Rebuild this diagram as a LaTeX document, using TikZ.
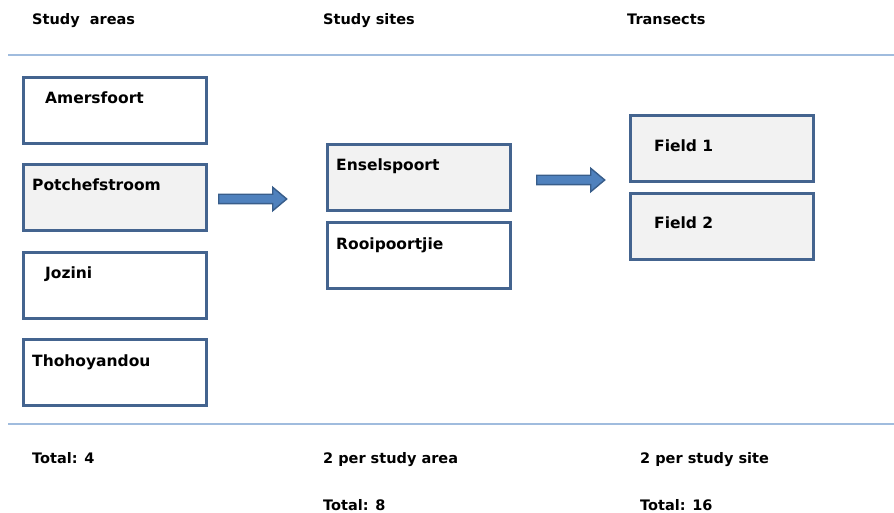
\documentclass[tikz,border=0pt]{standalone}
\usepackage{fontspec}
\setmainfont{DejaVu Sans}
\usetikzlibrary{shapes.arrows}

\definecolor{boxBorder}{RGB}{68,100,143}
\definecolor{boxFill}{RGB}{242,242,242}
\definecolor{arrowFill}{RGB}{79,129,189}
\definecolor{arrowBorder}{RGB}{56,93,138}
\definecolor{ruleBlue}{RGB}{160,188,222}

\begin{document}
\begin{tikzpicture}[x=1pt,y=-1pt]

\def\boxw{183pt}
\def\boxh{66pt}

\tikzstyle{siteBox}=[rectangle,draw=boxBorder,line width=2.6pt,minimum width=\boxw,minimum height=\boxh,anchor=north west,inner sep=0pt]
\tikzstyle{greyBox}=[siteBox,fill=boxFill]
\tikzstyle{boxText}=[anchor=base west,inner sep=0pt,font=\fontsize{15.5}{18}\selectfont\bfseries]
\tikzstyle{plainText}=[anchor=base west,inner sep=0pt,font=\fontsize{14.5}{17}\selectfont\bfseries]
\tikzstyle{blockArrow}=[single arrow,draw=arrowBorder,fill=arrowFill,line width=1.4pt,inner xsep=0pt,inner ysep=4pt,single arrow head extend=7pt,single arrow tip angle=80,minimum height=68pt,anchor=west]
\tikzstyle{rule}=[draw=ruleBlue,line width=1.2pt]

\useasboundingbox (0,0) rectangle (894,513);

%Headers
\node[plainText] (hAreas) at (32,25) {Study\ \ areas};
\node[plainText] (hSites) at (323,25) {Study sites};
\node[plainText] (hTrans) at (627,25) {Transects};

\draw[rule] (8,55) -- (894,55);
\draw[rule] (8,424) -- (894,424);

%Study areas
\node[siteBox] (amersfoort) at (22,76) {};
\node[greyBox] (potch) at (22,163) {};
\node[siteBox] (jozini) at (22,251) {};
\node[siteBox] (thoho) at (22,338) {};

\node[boxText] (tAmersfoort) at (45,104) {Amersfoort};
\node[boxText] (tPotch) at (32,191) {Potchefstroom};
\node[boxText] (tJozini) at (45,278) {Jozini};
\node[boxText] (tThoho) at (32,366) {Thohoyandou};

%Study sites
\node[greyBox] (ensels) at (326,143) {};
\node[siteBox] (rooi) at (326,221) {};

\node[boxText] (tEnsels) at (336,171) {Enselspoort};
\node[boxText] (tRooi) at (336,249) {Rooipoortjie};

%Transects
\node[greyBox] (field1) at (629,114) {};
\node[greyBox] (field2) at (629,192) {};

\node[boxText] (tField1) at (654,152) {Field 1};
\node[boxText] (tField2) at (654,229) {Field 2};

%Arrows
\node[blockArrow] (arrowA) at (218,199) {};
\node[blockArrow] (arrowB) at (536,180) {};

%Totals
\node[plainText] (totA) at (32,463) {Total: 4};
\node[plainText] (perArea) at (323,463) {2 per study area};
\node[plainText] (perSite) at (640,463) {2 per study site};
\node[plainText] (totB) at (323,510) {Total: 8};
\node[plainText] (totC) at (640,510) {Total: 16};

\end{tikzpicture}
\end{document}
